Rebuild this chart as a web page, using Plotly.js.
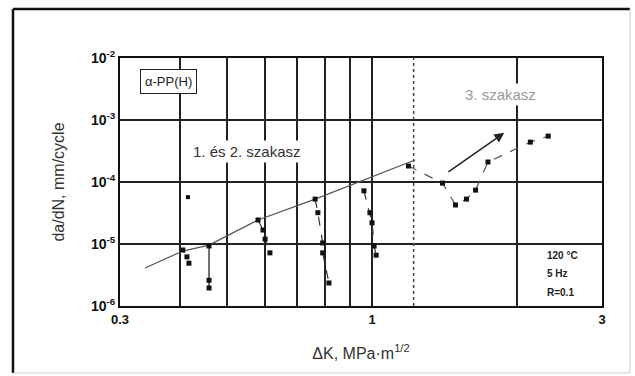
<!DOCTYPE html>
<html>
<head>
<meta charset="utf-8">
<script src="https://cdn.plot.ly/plotly-3.0.1.min.js"></script>
<style>html,body{margin:0;padding:0;background:#fff;}#chart{width:635px;height:376px;}</style>
</head>
<body>
<div id="chart"></div>
<script>
// ---- data ----
const trendX = [0.338, 0.405, 0.459, 0.58, 0.762, 1.227];
const trendY = [4.1e-6, 7.7e-6, 9.6e-6, 2.44e-5, 5.3e-5, 2.26e-4];

const g1X = [0.405, 0.413, 0.417];
const g1Y = [8.0e-6, 6.2e-6, 4.9e-6];
const isoX = [0.415];
const isoY = [5.7e-5];
const g2X = [0.459, 0.459, 0.459];
const g2Y = [9.3e-6, 2.6e-6, 1.95e-6];
const g3X = [0.58, 0.594, 0.60, 0.614];
const g3Y = [2.44e-5, 1.68e-5, 1.2e-5, 7.2e-6];
const g4X = [0.762, 0.772, 0.79, 0.79, 0.814];
const g4Y = [5.3e-5, 3.2e-5, 1.04e-5, 7.2e-6, 2.35e-6];
const g5X = [0.962, 0.99, 1.0, 1.01, 1.02];
const g5Y = [7.2e-5, 3.2e-5, 2.2e-5, 9.3e-6, 6.6e-6];
const g6X = [1.19, 1.40, 1.49, 1.57, 1.64, 1.74, 2.13, 2.32];
const g6Y = [1.81e-4, 9.6e-5, 4.26e-5, 5.3e-5, 7.4e-5, 2.1e-4, 4.4e-4, 5.5e-4];

const boundaryX = [1.22, 1.22];
const boundaryY = [1e-6, 1e-2];
const arrowTail = [1.43, 1.4e-4];
const arrowHead = [1.88, 6.2e-4];

const xTickVals = [0.3, 0.4, 0.5, 0.6, 0.7, 0.8, 0.9, 1, 2, 3];
const xTickText = ['<b>0.3</b>', '', '', '', '', '', '', '<b>1</b>', '', '<b>3</b>'];
const yTickVals = [1e-6, 1e-5, 1e-4, 1e-3, 1e-2];
const yTickText = ['<b>10<sup>-6</sup></b>', '<b>10<sup>-5</sup></b>', '<b>10<sup>-4</sup></b>', '<b>10<sup>-3</sup></b>', '<b>10<sup>-2</sup></b>'];

const sq = {symbol: 'square', size: 5, color: '#111'};
function grp(x, y, dash, color) {
  return {x: x, y: y, mode: 'lines+markers', type: 'scatter',
    line: {color: color || '#333', width: 1.2, dash: dash}, marker: sq, hoverinfo: 'skip'};
}

const traces = [
  {x: boundaryX, y: boundaryY, mode: 'lines', line: {color: '#444', width: 1.5, dash: 'dot'}, hoverinfo: 'skip'},
  {x: trendX, y: trendY, mode: 'lines', line: {color: '#555', width: 1.2}, hoverinfo: 'skip'},
  grp(g1X, g1Y, 'dot'),
  {x: isoX, y: isoY, mode: 'markers', marker: {symbol: 'square', size: 4, color: '#111'}, hoverinfo: 'skip'},
  grp(g2X, g2Y, 'solid', '#111'),
  grp(g3X, g3Y, 'dash'),
  grp(g4X, g4Y, 'dash'),
  grp(g5X, g5Y, 'dash'),
  grp(g6X, g6Y, 'dash', '#555')
];

const f = 'Liberation Sans, Arial, sans-serif';
function note(x, y, text, size, color, extra) {
  return Object.assign({xref: 'paper', yref: 'paper', x: x, y: y, xanchor: 'center', yanchor: 'middle',
    text: text, showarrow: false, font: {size: size, color: color}}, extra || {});
}
const layout = {
  width: 635, height: 376,
  margin: {l: 120, r: 33, t: 58, b: 70},
  paper_bgcolor: '#fff', plot_bgcolor: '#fff',
  showlegend: false,
  font: {family: f, color: '#222'},
  xaxis: {
    type: 'log', range: [Math.log10(0.3), Math.log10(3)],
    tickvals: xTickVals, ticktext: xTickText, ticks: '',
    showgrid: true, gridcolor: '#222', gridwidth: 2,
    showline: true, linecolor: '#111', linewidth: 2, mirror: true,
    zeroline: false, tickfont: {size: 13, color: '#111'},
    title: {text: 'ΔK, MPa·m<sup>1/2</sup>', font: {size: 16, color: '#333'}, standoff: 22}
  },
  yaxis: {
    type: 'log', range: [-6, -2],
    tickvals: yTickVals, ticktext: yTickText, ticks: '',
    showgrid: true, gridcolor: '#222', gridwidth: 2,
    showline: true, linecolor: '#111', linewidth: 2, mirror: true,
    zeroline: false, tickfont: {size: 14, color: '#111'},
    title: {text: 'da/dN, mm/cycle', font: {size: 16, color: '#333'}, standoff: 22}
  },
  annotations: [
    note(0.1006, 0.905, 'α-PP(H)', 13, '#222', {bordercolor: '#222', borderwidth: 1, borderpad: 4, bgcolor: '#fff'}),
    note(0.2635, 0.621, '1. és 2. szakasz', 15, '#333', {bgcolor: '#fff', borderpad: 2}),
    note(0.79, 0.851, '3. szakasz', 15, '#999', {bgcolor: '#fff', borderpad: 2}),
    note(0.882, 0.2056, '<b>120 °C</b>', 10, '#222', {xanchor: 'left'}),
    note(0.882, 0.133, '<b>5 Hz</b>', 10, '#222', {xanchor: 'left'}),
    note(0.882, 0.056, '<b>R=0.1</b>', 10, '#222', {xanchor: 'left'}),
    {xref: 'x', yref: 'y', axref: 'x', ayref: 'y',
      x: Math.log10(arrowHead[0]), y: Math.log10(arrowHead[1]),
      ax: Math.log10(arrowTail[0]), ay: Math.log10(arrowTail[1]),
      text: '', showarrow: true, arrowhead: 2, arrowsize: 1.3, arrowwidth: 1.5, arrowcolor: '#222'}
  ],
  shapes: [
    {type: 'line', xref: 'paper', yref: 'paper', x0: -0.222, x1: -0.222, y0: -0.27, y1: 1.1976, line: {color: '#111', width: 2.5}},
    {type: 'line', xref: 'paper', yref: 'paper', x0: -0.222, x1: 1.058, y0: 1.1976, y1: 1.1976, line: {color: '#111', width: 2.5}},
    {type: 'line', xref: 'paper', yref: 'paper', x0: 1.058, x1: 1.058, y0: -0.27, y1: 1.1976, line: {color: '#ccc', width: 1}},
    {type: 'line', xref: 'paper', yref: 'paper', x0: -0.222, x1: 1.058, y0: -0.27, y1: -0.27, line: {color: '#ccc', width: 1}}
  ]
};

Plotly.newPlot('chart', traces, layout, {staticPlot: true, displayModeBar: false});
</script>
</body>
</html>
